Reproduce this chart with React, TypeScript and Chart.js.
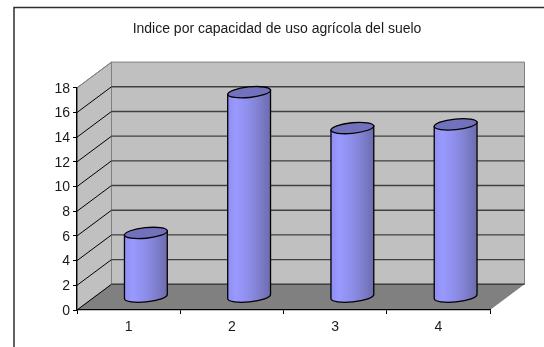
import React, { useEffect, useRef } from "react";
import { Chart, registerables } from "chart.js";

Chart.register(...registerables);

const categories = ["1", "2", "3", "4"];
const indiceValues = [5.2, 16.6, 13.7, 14.0];
const chartTitle = "Indice por capacidad de uso agrícola del suelo";

// Oblique projection offset between the front plane and the back wall.
const DEPTH_X = 34.5;
const DEPTH_Y = 25.7;

const FONT = "'Liberation Sans', Arial, sans-serif";

const drawScene = {
  id: "scene",
  afterLayout(chart: any) {
    // The value axis keeps a narrow fitted box; widen its clip region for the labels.
    chart.scales.y.left = 30;
  },
  beforeDraw(chart: any) {
    const { ctx, chartArea: a, scales } = chart;
    const y = scales.y;
    const y0 = y.getPixelForValue(0);
    const yMax = y.getPixelForValue(18);
    ctx.save();

    // Outer chart frame, open at the right and bottom edges.
    ctx.strokeStyle = "#2e2e2e";
    ctx.lineWidth = 1.5;
    ctx.beginPath();
    ctx.moveTo(14, 347);
    ctx.lineTo(14, 7.5);
    ctx.lineTo(544, 7.5);
    ctx.stroke();

    // Back wall
    ctx.fillStyle = "#c0c0c0";
    ctx.strokeStyle = "#808080";
    ctx.lineWidth = 1;
    ctx.beginPath();
    ctx.rect(a.left + DEPTH_X, yMax - DEPTH_Y, a.right - a.left, y0 - yMax);
    ctx.fill();
    ctx.stroke();

    // Side wall
    ctx.beginPath();
    ctx.moveTo(a.left, y0);
    ctx.lineTo(a.left, yMax);
    ctx.lineTo(a.left + DEPTH_X, yMax - DEPTH_Y);
    ctx.lineTo(a.left + DEPTH_X, y0 - DEPTH_Y);
    ctx.closePath();
    ctx.fill();
    ctx.stroke();

    // Floor
    ctx.fillStyle = "#808080";
    ctx.beginPath();
    ctx.moveTo(a.left, y0);
    ctx.lineTo(a.right, y0);
    ctx.lineTo(a.right + DEPTH_X, y0 - DEPTH_Y);
    ctx.lineTo(a.left + DEPTH_X, y0 - DEPTH_Y);
    ctx.closePath();
    ctx.fill();

    // Gridlines wrap from the side wall across the back wall.
    for (const tick of y.ticks) {
      const py = y.getPixelForValue(tick.value);
      const isTop = tick.value === 18;
      ctx.strokeStyle = isTop ? "#808080" : "#000000";
      ctx.lineWidth = 1;
      ctx.beginPath();
      ctx.moveTo(a.left, py);
      ctx.lineTo(a.left + DEPTH_X, py - DEPTH_Y);
      ctx.stroke();
      if (!isTop) {
        ctx.strokeStyle = "#404040";
        ctx.lineWidth = 1.4;
        ctx.beginPath();
        ctx.moveTo(a.left + DEPTH_X, py - DEPTH_Y);
        ctx.lineTo(a.right + DEPTH_X, py - DEPTH_Y);
        ctx.stroke();
      }
    }
    ctx.restore();
  },
  afterDatasetsDraw(chart: any) {
    const { ctx } = chart;
    const meta = chart.getDatasetMeta(0);
    const rot = -0.1;
    const ry = 5.3;
    ctx.save();
    ctx.lineWidth = 1.3;
    ctx.strokeStyle = "#000000";
    for (const bar of meta.data) {
      const p = bar.getProps(["x", "y", "base", "width"], true);
      const cx = p.x + DEPTH_X / 2;
      const rx = p.width / 2;
      const top = p.y - DEPTH_Y / 2;
      const bottom = p.base - DEPTH_Y / 2;
      const dx = rx * Math.cos(rot);
      const dy = rx * Math.sin(rot);

      // Vertical bands of shading around the cylinder.
      const g = ctx.createLinearGradient(cx - rx, 0, cx + rx, 0);
      g.addColorStop(0, "#8f8ff2");
      g.addColorStop(0.2, "#9999ff");
      g.addColorStop(0.5, "#8d8de8");
      g.addColorStop(0.72, "#8080d0");
      g.addColorStop(0.88, "#7474bc");
      g.addColorStop(1, "#6c6cae");

      ctx.fillStyle = g;
      ctx.beginPath();
      ctx.moveTo(cx - dx, top - dy);
      ctx.lineTo(cx - dx, bottom - dy);
      ctx.ellipse(cx, bottom, rx, ry, rot, Math.PI, 0, true);
      ctx.lineTo(cx + dx, top + dy);
      ctx.closePath();
      ctx.fill();
      ctx.stroke();

      ctx.fillStyle = "#7272bc";
      ctx.beginPath();
      ctx.ellipse(cx, top, rx, ry, rot, 0, Math.PI * 2);
      ctx.fill();
      ctx.stroke();
    }
    ctx.restore();
  },
};

export default function App() {
  const ref = useRef<HTMLCanvasElement>(null);

  useEffect(() => {
    const chart = new Chart(ref.current as HTMLCanvasElement, {
      type: "bar",
      plugins: [drawScene],
      data: {
        labels: categories,
        datasets: [
          {
            data: indiceValues,
            backgroundColor: "transparent",
            barPercentage: 0.4167,
            categoryPercentage: 1,
          },
        ],
      },
      options: {
        responsive: false,
        animation: false,
        layout: { padding: { left: 64, right: 54, top: 0, bottom: 0 } },
        plugins: {
          legend: { display: false },
          tooltip: { enabled: false },
          title: {
            display: true,
            text: chartTitle,
            color: "#1a1a1a",
            font: { family: FONT, size: 14, weight: "normal" },
            padding: { top: 21, bottom: 50 },
          },
        },
        scales: {
          x: {
            afterFit: (s: any) => {
              s.height = 37;
            },
            border: { color: "#000000", width: 1.3 },
            grid: { drawOnChartArea: false, tickLength: 4, color: "#000000" },
            ticks: { color: "#1a1a1a", font: { family: FONT, size: 14 }, padding: 5, maxRotation: 0 },
          },
          y: {
            min: 0,
            max: 18,
            afterFit: (s: any) => {
              s.width = 13;
            },
            border: { color: "#000000", width: 1.3 },
            grid: { drawOnChartArea: false, tickLength: 4, color: "#000000" },
            ticks: { stepSize: 2, color: "#1a1a1a", font: { family: FONT, size: 14 }, padding: 3, labelOffset: 1 },
          },
        },
      },
    } as any);
    return () => chart.destroy();
  }, []);

  return (
    <div style={{ position: "absolute", left: 0, top: 0, width: 544, height: 347, overflow: "hidden", background: "#ffffff" }}>
      <canvas ref={ref} width={544} height={347} style={{ display: "block" }} />
    </div>
  );
}
